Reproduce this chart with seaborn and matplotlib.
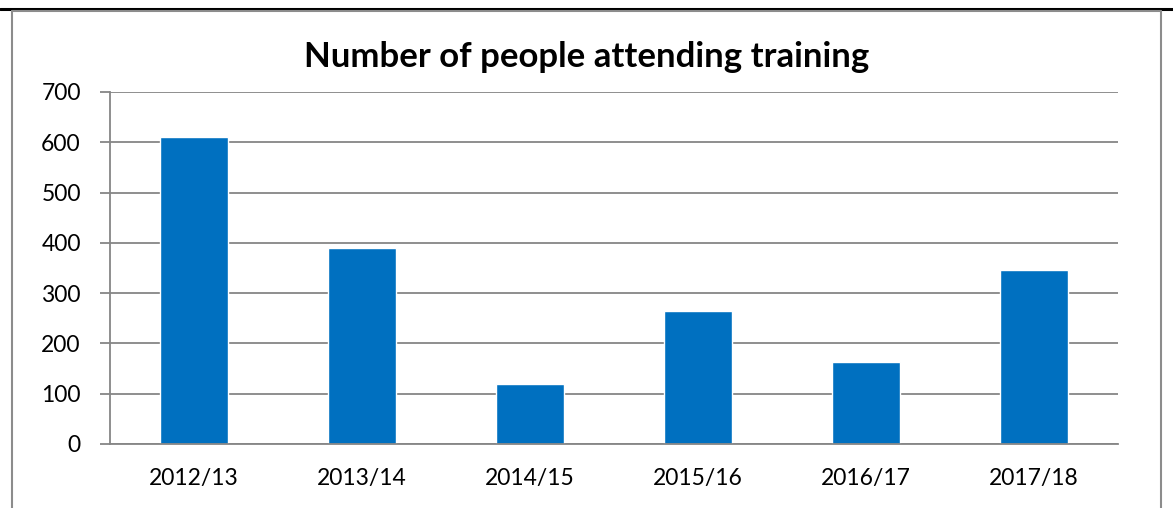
import matplotlib
matplotlib.use("Agg")
import matplotlib.pyplot as plt
from matplotlib.lines import Line2D
import seaborn as sns
import pandas as pd
import numpy as np

years = ["2012/13", "2013/14", "2014/15", "2015/16", "2016/17", "2017/18"]
attendees = [610, 390, 120, 265, 163, 346]
yticks = [0, 100, 200, 300, 400, 500, 600, 700]
title = "Number of people attending training"

sns.set_theme(style="white")
plt.rcParams['font.family'] = ['Lato', 'DejaVu Sans']

W, H = 1173, 508
fig = plt.figure(figsize=(W / 100, H / 100), dpi=100)
fig.patch.set_facecolor("white")

ax = fig.add_axes([110 / W, 1 - 444 / H, (1118 - 110) / W, (444 - 92) / H])
df = pd.DataFrame({"year": years, "n": attendees})
sns.barplot(data=df, x="year", y="n", color="#0070C0", width=0.4,
            saturation=1, ax=ax, zorder=3)

ax.set_xlim(-0.5, len(years) - 0.5)
ax.set_ylim(0, 700)
ax.set_yticks(yticks)
ax.set_yticklabels([str(v) for v in yticks], fontsize=16.5, color="black")
ax.set_xticks(range(len(years)))
ax.set_xticklabels(years, fontsize=16.5, color="black")
ax.set_xticks(np.arange(-0.5, len(years), 1.0), minor=True)
ax.tick_params(axis="x", which="major", length=0, pad=17)
ax.tick_params(axis="x", which="minor", length=6, width=1.3, color="#868686", direction="out")
ax.tick_params(axis="y", which="major", length=7, width=1.3, color="#868686", direction="out", pad=14, left=True)
ax.set_xlabel("")
ax.set_ylabel("")
ax.yaxis.grid(True, color="#868686", linewidth=1.3, zorder=0)
ax.set_axisbelow(True)
for s in ["top", "right"]:
    ax.spines[s].set_visible(False)
for s in ["left", "bottom"]:
    ax.spines[s].set_color("#868686")
    ax.spines[s].set_linewidth(1.3)
ax.spines["bottom"].set_zorder(4)

fig.text((302 + 871) / 2 / W, 1 - 57 / H, title, ha="center", va="center",
         fontsize=25, fontweight="bold", color="black")

# page / chart borders
fig.add_artist(Line2D([0, 1], [1 - 9 / H, 1 - 9 / H], color="black", linewidth=2.2))
fig.add_artist(Line2D([12 / W, 1161 / W], [1 - 11 / H, 1 - 11 / H], color="#8c8c8c", linewidth=1.5))
fig.add_artist(Line2D([12 / W, 12 / W], [0, 1 - 11 / H], color="#8c8c8c", linewidth=1.5))
fig.add_artist(Line2D([1161 / W, 1161 / W], [0, 1 - 11 / H], color="#8c8c8c", linewidth=1.5))

fig.savefig("out.png", dpi=100)
